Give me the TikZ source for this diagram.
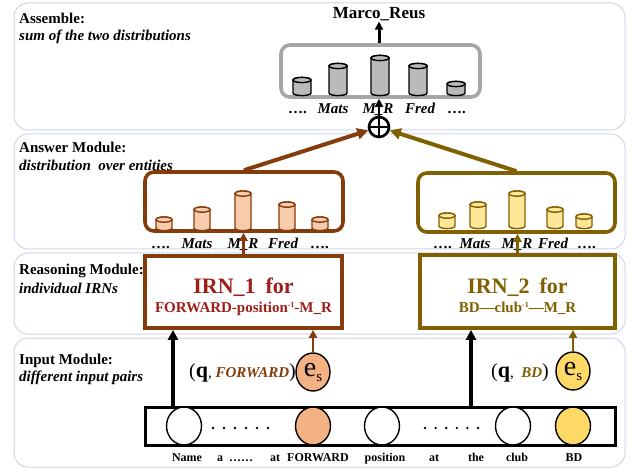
\documentclass[tikz,border=0pt]{standalone}
\usepackage{fontspec}
\setmainfont{Liberation Serif}
\usetikzlibrary{arrows.meta,shapes.geometric}
\definecolor{brn}{HTML}{843C0C}
\definecolor{olv}{HTML}{806000}
\definecolor{irnred}{RGB}{158,30,24}
\definecolor{salmon}{HTML}{F4B183}
\definecolor{lsalmon}{HTML}{F8CBAD}
\definecolor{goldf}{HTML}{FFD966}
\definecolor{lgold}{HTML}{FFE699}
\definecolor{panelc}{HTML}{CDD6E8}
\definecolor{grayb}{HTML}{A6A6A6}
\definecolor{grayf}{HTML}{BABABA}
\newcommand\myfs[1]{\fontsize{#1}{#1}\selectfont}
% x, top (centre of top ellipse), bottom, half width, fill, draw
\newcommand\mycyl[6]{%
  \filldraw[fill=#5,draw=#6,line width=1.4pt] (#1-#4,#2) -- (#1-#4,#3)
    arc[start angle=180,end angle=360,x radius=#4pt,y radius=2.6pt] -- (#1+#4,#2)
    arc[start angle=0,end angle=180,x radius=#4pt,y radius=2.6pt] -- cycle;
  \filldraw[fill=#5,draw=#6,line width=1.4pt] (#1,#2) ellipse[x radius=#4pt,y radius=2.6pt];
}
\begin{document}
\begin{tikzpicture}[x=1pt,y=-1pt,
  panel/.style={draw=panelc,line width=1pt,rounded corners=14pt,fill=white},
  ptitle/.style={anchor=base west,font=\myfs{15}\bfseries,inner sep=0},
  psub/.style={anchor=base west,font=\myfs{15}\bfseries\itshape,inner sep=0},
  abox/.style={draw,rounded corners=9pt,line width=3.6pt,inner sep=0},
  irnbox/.style={draw,line width=3.8pt,inner sep=0,fill=white},
  ent/.style={anchor=base,font=\myfs{15}\bfseries\itshape,inner sep=0},
  word/.style={anchor=base,font=\myfs{12}\bfseries,inner sep=0},
  tok/.style={ellipse,draw,line width=1.4pt,minimum width=35pt,minimum height=38pt,inner sep=0},
  esnode/.style={ellipse,draw,line width=1.4pt,minimum width=34pt,minimum height=38pt,inner sep=0,font=\mdseries},
  bigarr/.style={line width=4pt,-{Triangle[length=11pt,width=11pt]}},
  blkarr/.style={line width=3.8pt,-{Triangle[length=10pt,width=10pt]}},
  midarr/.style={line width=2.6pt,-{Triangle[length=8pt,width=8pt]}},
  smarr/.style={line width=2.5pt,-{Triangle[length=8pt,width=8pt]}},
  irnt/.style={anchor=base,inner sep=0,font=\bfseries}
]
\useasboundingbox (0,0) rectangle (634,470);
% panels
\draw[panel] (14,3) rectangle (625,130);
\draw[panel] (14,134) rectangle (625,249);
\draw[panel] (14,253) rectangle (625,334);
\draw[panel] (14,338) rectangle (625,467);
% panel titles
\node[ptitle] (tA) at (19,24) {Assemble:};
\node[psub] (sA) at (19,41) {sum of the two distributions};
\node[ptitle] (tB) at (19,153) {Answer Module:};
\node[psub] (sB) at (19,171) {distribution\ \ over entities};
\node[ptitle] (tC) at (19,274) {Reasoning Module:};
\node[psub] (sC) at (19,293) {individual IRNs};
\node[ptitle] (tD) at (19,364) {Input Module:};
\node[psub] (sD) at (19,381) {different input pairs};

% ---------- Assemble ----------
\node[anchor=base,inner sep=0,font=\myfs{17}\bfseries] (mr) at (379,19) {Marco\_Reus};
\node[abox,draw=grayb,minimum width=199pt,minimum height=52pt] (gbox) at (380.5,71) {};
\mycyl{302}{80}{93}{9}{grayf}{black}
\mycyl{338}{66}{93}{9}{grayf}{black}
\mycyl{380}{58}{93}{9}{grayf}{black}
\mycyl{418}{66}{93}{9}{grayf}{black}
\mycyl{456}{84}{93}{9}{grayf}{black}
\node[ent] (g1) at (298,114) {….};
\node[ent] (g2) at (333,114) {Mats};
\node[ent] (g3) at (378,114) {M\_R};
\node[ent] (g4) at (420,114) {Fred};
\node[ent] (g5) at (457,114) {….};
\node[circle,draw,line width=2.6pt,minimum size=20pt,inner sep=0,fill=white] (plus) at (379,127) {};
\draw[line width=2.2pt] (plus.north) -- (plus.south) (plus.west) -- (plus.east);
\draw[midarr] (plus.north) -- (plus.north |- gbox.south);
\draw[midarr,line width=3pt] (gbox.north -| mr.south) -- (mr.south);

% ---------- Answer ----------
\node[abox,draw=brn,minimum width=198pt,minimum height=59pt] (lbox) at (244,201.5) {};
\mycyl{164}{219.6}{228}{8}{lsalmon}{brn}
\mycyl{202}{209.6}{228}{8}{lsalmon}{brn}
\mycyl{243}{193.6}{228}{8}{lsalmon}{brn}
\mycyl{287}{204.6}{228}{8}{lsalmon}{brn}
\mycyl{320}{219.6}{228}{8}{lsalmon}{brn}
\node[ent] (a1) at (161,248) {….};
\node[ent] (a2) at (197,248) {Mats};
\node[ent] (a3) at (243,248) {M\_R};
\node[ent] (a4) at (283,248) {Fred};
\node[ent] (a5) at (320,248) {….};

\node[abox,draw=olv,minimum width=197pt,minimum height=59pt] (rbox) at (516.5,202.5) {};
\mycyl{447}{215.6}{226}{8}{lgold}{olv}
\mycyl{478}{204.6}{226}{8}{lgold}{olv}
\mycyl{517}{193.6}{226}{8}{lgold}{olv}
\mycyl{555}{209.6}{226}{8}{lgold}{olv}
\mycyl{584}{216.6}{226}{8}{lgold}{olv}
\node[ent] (b1) at (443,249) {….};
\node[ent] (b2) at (475,249) {Mats};
\node[ent] (b3) at (517,249) {M\_R};
\node[ent] (b4) at (553,249) {Fred};
\node[ent] (b5) at (587,249) {….};

\draw[bigarr,brn] (lbox.north) -- (plus);
\draw[bigarr,olv] (rbox.north) -- (plus);

% ---------- Reasoning ----------
\node[irnbox,draw=brn,minimum width=197pt,minimum height=72pt] (lirn) at (243.5,292) {};
\node[irnt,text=irnred,font=\myfs{22}\bfseries] (l1t) at (243.5,293) {IRN\_1\hspace{0.45em}for};
\node[irnt,text=irnred,font=\myfs{15}\bfseries] (l2t) at (243.5,312) {FORWARD-position\raisebox{5pt}{\myfs{8}-1}-M\_R};
\node[irnbox,draw=olv,minimum width=195pt,minimum height=73pt] (rirn) at (517.5,291.5) {};
\node[irnt,text=olv,font=\myfs{22}\bfseries] (r1t) at (517.5,293) {IRN\_2\hspace{0.45em}for};
\node[irnt,text=olv,font=\myfs{15}\bfseries] (r2t) at (517.5,312) {BD—club\raisebox{5pt}{\myfs{8}-1}—M\_R};

\draw[smarr,brn] (lirn.north) -- (lirn.north |- lbox.south);
\draw[smarr,olv] (rirn.north) -- (rirn.north |- rbox.south);

% ---------- Input ----------
\node[draw,line width=3pt,minimum width=470pt,minimum height=38pt,inner sep=0] (bar) at (380,426) {};
\node[tok,fill=white] (w1) at (184,426) {};
\node[tok,fill=salmon] (w2) at (313,426) {};
\node[tok,fill=white] (w3) at (382,426) {};
\node[tok,fill=white] (w4) at (513,426) {};
\node[tok,fill=goldf] (w5) at (573,426) {};
\foreach \i in {0,...,5} {
  \fill (213+11*\i,428) circle (1.3pt);
  \fill (425+10.6*\i,428) circle (1.3pt);
}
\node[word] (n1) at (187,461) {Name};
\node[word] (n2) at (220,461) {a};
\node[word] (n3) at (241,461) {……};
\node[word] (n4) at (275,461) {at};
\node[word] (n5) at (318,461) {FORWARD};
\node[word] (n6) at (385,461) {position};
\node[word] (n7) at (434,461) {at};
\node[word] (n8) at (476,461) {the};
\node[word] (n9) at (517,461) {club};
\node[word] (n10) at (574,461) {BD};

\node[esnode,fill=salmon] (es1) at (313,372) {\myfs{28}e\raisebox{-5pt}{\myfs{15}s}};
\node[esnode,fill=goldf] (es2) at (573,371) {\myfs{28}e\raisebox{-5pt}{\myfs{15}s}};

\node[anchor=base east,inner sep=0,font=\mdseries] (qp1) at (296,377)
  {{\myfs{20}(}{\myfs{22}\bfseries q}{\myfs{15},\ \textcolor{brn}{\bfseries\itshape FORWARD}}{\myfs{20})}};
\node[anchor=base east,inner sep=0,font=\mdseries] (qp2) at (549,377)
  {{\myfs{20}(}{\myfs{22}\bfseries q}{\myfs{15},\ \ \textcolor{olv}{\bfseries\itshape BD}}{\myfs{20})}};

\coordinate (q1) at (173,407);
\coordinate (q2) at (471,407);
\draw[blkarr] (q1) -- (q1 |- lirn.south);
\draw[blkarr] (q2) -- (q2 |- rirn.south);
\draw[smarr,brn] (es1.north) -- (es1.north |- lirn.south);
\draw[smarr,olv] (es2.north) -- (es2.north |- rirn.south);
\end{tikzpicture}
\end{document}
